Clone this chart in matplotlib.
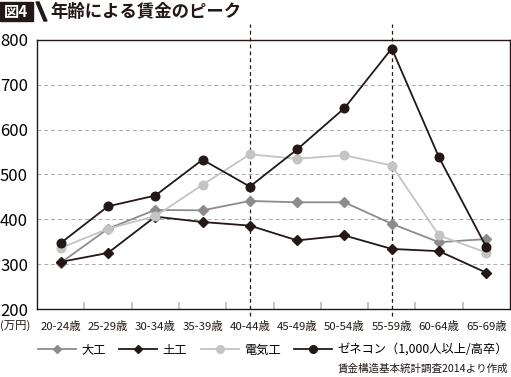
import matplotlib
matplotlib.use("Agg")
import matplotlib.pyplot as plt
import matplotlib.transforms as mtrans
from matplotlib.patches import Polygon
from matplotlib.lines import Line2D

plt.rcParams['font.family'] = ['Noto Sans CJK JP', 'DejaVu Sans']

categories = ["20-24歳", "25-29歳", "30-34歳", "35-39歳", "40-44歳",
              "45-49歳", "50-54歳", "55-59歳", "60-64歳", "65-69歳"]
daiku = [303, 379, 421, 420, 441, 438, 438, 390, 349, 356]
doko = [305, 325, 406, 394, 386, 353, 364, 334, 329, 281]
denki = [336, 379, 407, 477, 545, 535, 543, 520, 364, 326]
zenecon = [347, 429, 453, 533, 473, 556, 648, 781, 538, 338]
series_names = ["大工", "土工", "電気工", "ゼネコン（1,000人以上/高卒）"]
yticks = [200, 300, 400, 500, 600, 700, 800]
highlight = [4, 7]

fig = plt.figure(figsize=(5.11, 3.77), dpi=100)
ax = fig.add_axes([37/511, 1-309/377, (510-37)/511, (309-40)/377])

x = list(range(len(categories)))
ax.plot(x, daiku, color='#8c8c8c', marker='D', ms=5, lw=1.3, zorder=3)
ax.plot(x, doko, color='#231815', marker='D', ms=5, lw=1.3, zorder=3)
ax.plot(x, denki, color='#c4c4c4', marker='o', ms=6.2, lw=1.3, zorder=3)
ax.plot(x, zenecon, color='#231815', marker='o', ms=6.2, lw=1.3, zorder=4)

ax.set_xlim(-0.5, 9.5)
ax.set_ylim(200, 800)
ax.set_yticks(yticks)
ax.set_yticklabels([str(v) for v in yticks])
for yv in yticks[1:-1]:
    ax.axhline(yv, color='#aaaaaa', lw=0.7, ls=(0, (4, 3)), zorder=1)
for h in highlight:
    ax.plot([h, h], [-0.025, 1.06], transform=ax.get_xaxis_transform(),
            color='#231815', lw=0.9, ls=(0, (3, 2.5)), clip_on=False, zorder=2)

ax.tick_params(axis='y', length=0, labelsize=12, pad=0)
for lab in ax.get_yticklabels():
    lab.set_transform(mtrans.blended_transform_factory(fig.transFigure, ax.transData))
    lab.set_horizontalalignment('left')
    lab.set_x(0.0)

boundaries = [i + 0.5 for i in range(len(categories) - 1)]
ax.set_xticks(boundaries)
ax.set_xticklabels([])
ax.tick_params(axis='x', direction='in', length=5, color='#bbbbbb', width=1.2)
for i, c in enumerate(categories):
    ax.text(i, -0.065, c, transform=ax.get_xaxis_transform(), ha='center', va='center',
            fontsize=8.2, color='#231815')
fig.text(0.0, 1-326/377, "(万円)", ha='left', va='center', fontsize=8.2, color='#231815')

for s in ax.spines.values():
    s.set_color('#231815')
    s.set_linewidth(1.0)

# Title
fig.patches.append(Polygon([[0, 1-2/377], [33/511, 1-2/377], [33/511, 1-21/377], [0, 1-21/377]],
                           closed=True, transform=fig.transFigure, color='#231815'))
fig.patches.append(Polygon([[36/511, 1-2/377], [39/511, 1-2/377], [47/511, 1-21/377], [44/511, 1-21/377]],
                           closed=True, transform=fig.transFigure, color='#231815'))
fig.text(4/511, 1-11.5/377, "図4", color='white', fontsize=11, fontweight='bold', ha='left', va='center')
fig.text(50/511, 1-11.5/377, "年齢による賃金のピーク", color='#231815', fontsize=12.5,
         fontweight='bold', ha='left', va='center')

# Legend
handles = [
    Line2D([], [], color='#8c8c8c', marker='D', ms=4, lw=1.3),
    Line2D([], [], color='#231815', marker='D', ms=4, lw=1.3),
    Line2D([], [], color='#c4c4c4', marker='o', ms=5.5, lw=1.3),
    Line2D([], [], color='#231815', marker='o', ms=5.5, lw=1.3),
]
fig.legend(handles, series_names, loc='center left', bbox_to_anchor=(38/511, 1-350/377), ncol=4,
           frameon=False, fontsize=8.8, handlelength=3.1, handletextpad=0.45, columnspacing=1.1,
           borderpad=0, borderaxespad=0)

fig.text(0.995, 1-368/377, "賃金構造基本統計調査2014より作成", ha='right', va='center',
         fontsize=7.6, color='#231815')

fig.savefig("out.png", dpi=100)
